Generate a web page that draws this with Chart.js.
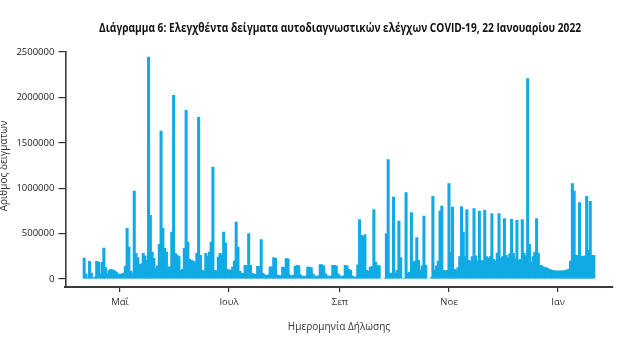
<!DOCTYPE html>
<html lang="el">
<head>
<meta charset="utf-8">
<title>Ελεγχθέντα δείγματα αυτοδιαγνωστικών ελέγχων</title>
<script src="https://cdn.jsdelivr.net/npm/chart.js@4/dist/chart.umd.min.js"></script>
<style>
  body { margin: 0; background: #fff; }
  canvas { display: block; }
</style>
</head>
<body>
<canvas id="barChart" width="623" height="349"></canvas>
<script>
// Daily self-test declarations, 11 Apr 2021 to 21 Jan 2022 (thousands of samples)
const firstDay = "2021-04-11";
const samplesK = [
  // Apr
  235, 60, 20, 198, 70, 15, 25, 198, 190, 60, 187, 345, 130, 60, 100, 110, 105, 95, 80, 60,
  // May
  55, 60, 70, 143, 562, 356, 90, 70, 973, 286, 240, 165, 170, 286, 260, 209, 2448, 705, 300, 231,
  120, 150, 385, 1633, 562, 341, 300, 136, 140, 521, 2026,
  // Jun
  286, 264, 250, 100, 110, 341, 1861, 411, 220, 209, 200, 180, 286, 1784, 264, 100, 95, 286, 253, 300,
  411, 1237, 100, 95, 246, 286, 270, 521, 400, 110,
  // Jul
  105, 100, 136, 200, 631, 356, 90, 70, 66, 154, 150, 503, 154, 66, 60, 55, 143, 140, 437, 66,
  50, 45, 50, 136, 140, 239, 230, 50, 45, 40, 136,
  // Aug
  130, 228, 225, 50, 40, 45, 143, 154, 150, 50, 35, 30, 40, 136, 136, 130, 60, 40, 30, 40,
  162, 160, 150, 60, 40, 30, 40, 154, 154, 150, 60,
  // Sep
  40, 30, 40, 154, 150, 110, 100, 40, 20, 30, 160, 657, 485, 470, 492, 100, 90, 136, 140, 768,
  191, 154, 150, 8, 5, 10, 503, 1318, 66, 70,
  // Oct
  907, 70, 100, 642, 239, 8, 10, 955, 70, 80, 735, 191, 200, 459, 209, 100, 150, 697, 154, 8,
  5, 20, 914, 100, 150, 200, 752, 807, 100, 90, 100,
  // Nov
  1054, 300, 796, 110, 100, 130, 250, 802, 521, 250, 768, 209, 200, 250, 779, 260, 200, 752, 209, 200,
  760, 250, 230, 250, 724, 220, 200, 290, 724, 230,
  // Dec
  250, 668, 264, 230, 280, 661, 286, 230, 650, 209, 220, 657, 286, 260, 2210, 385, 191, 250, 300, 668,
  286, 154, 150, 136, 130, 125, 110, 105, 100, 95, 95,
  // Jan
  90, 95, 95, 95, 100, 105, 110, 200, 1054, 973, 264, 264, 845, 253, 253, 260, 914, 319, 859, 264,
  264
];

// x axis runs a little past the data on both sides
const axisStart = "2021-04-01";
const axisEnd = "2022-01-31";
const monthTickDates = ["2021-05-01", "2021-07-01", "2021-09-01", "2021-11-01", "2022-01-01"];
const monthTickLabels = ["Μαΐ", "Ιουλ", "Σεπ", "Νοε", "Ιαν"];
const yTicks = [0, 500000, 1000000, 1500000, 2000000, 2500000];

const chartTitle = "Διάγραμμα 6: Ελεγχθέντα δείγματα αυτοδιαγνωστικών ελέγχων COVID-19, 22 Ιανουαρίου 2022";
const xTitle = "Ημερομηνία Δήλωσης";
const yTitle = "Αριθμός δειγμάτων";

const DAY = 86400000;
const toDate = (s) => Date.parse(s + "T00:00:00Z");
const isoDay = (t) => new Date(t).toISOString().slice(0, 10);

const labels = [];
for (let t = toDate(axisStart); t <= toDate(axisEnd); t += DAY) {
  labels.push(isoDay(t));
}

const offset = (toDate(firstDay) - toDate(axisStart)) / DAY;
const values = labels.map((d, i) => {
  const k = i - offset;
  return k >= 0 && k < samplesK.length ? samplesK[k] * 1000 : null;
});

const tickIndex = monthTickDates.map((d) => labels.indexOf(d));

// titles drawn by hand so they sit exactly where wanted
const titlesPlugin = {
  id: "titles",
  afterDraw(chart) {
    const { ctx, chartArea } = chart;
    const cx = (chartArea.left + chartArea.right) / 2;
    ctx.save();
    ctx.fillStyle = "#111";
    ctx.textAlign = "center";
    ctx.textBaseline = "middle";
    // condensed look: squeeze the bold title into its slot
    ctx.font = "bold 13px 'Open Sans', sans-serif";
    ctx.fillText(chartTitle, cx + 1, 28, 482);

    ctx.fillStyle = "#333";
    ctx.font = "10px 'Open Sans', sans-serif";
    ctx.fillText(xTitle, cx, 327);

    ctx.translate(7, 166);
    ctx.rotate(-Math.PI / 2);
    ctx.textBaseline = "alphabetic";
    ctx.fillText(yTitle, 0, 0);
    ctx.restore();
  },
};

const ctx = document.getElementById("barChart").getContext("2d");
const barChart = new Chart(ctx, {
  type: "bar",
  data: {
    labels: labels,
    datasets: [
      {
        data: values,
        backgroundColor: "#12aae4",
        barPercentage: 1.7,
        categoryPercentage: 1,
        borderWidth: 0,
      },
    ],
  },
  plugins: [titlesPlugin],
  options: {
    responsive: false,
    animation: false,
    devicePixelRatio: 1,
    layout: {
      padding: { top: 52, right: 10.4, left: 0, bottom: 0 },
    },
    plugins: {
      legend: { display: false },
      tooltip: { enabled: false },
    },
    scales: {
      x: {
        offset: true,
        afterFit: (scale) => {
          scale.height = 62;
        },
        afterBuildTicks: (scale) => {
          scale.ticks = tickIndex.map((i) => ({ value: i }));
        },
        grid: {
          offset: false,
          drawOnChartArea: false,
          drawTicks: true,
          tickLength: 5,
          color: "#333",
          lineWidth: 1.2,
        },
        border: { display: true, color: "#3a3a3a", width: 2 },
        ticks: {
          autoSkip: false,
          maxRotation: 0,
          padding: 5,
          color: "#333",
          font: { family: "'Open Sans', sans-serif", size: 9.5 },
          callback: (value) => monthTickLabels[tickIndex.indexOf(value)],
        },
      },
      y: {
        min: -88000,
        max: 2500000,
        afterFit: (scale) => {
          scale.width = 65.4;
        },
        afterBuildTicks: (scale) => {
          scale.ticks = yTicks.map((v) => ({ value: v }));
        },
        grid: {
          drawOnChartArea: false,
          drawTicks: true,
          tickLength: 7,
          color: "#333",
          lineWidth: 1.2,
        },
        border: { display: true, color: "#3a3a3a", width: 1.6 },
        ticks: {
          padding: 4,
          color: "#222",
          font: { family: "'Open Sans', sans-serif", size: 9.5 },
          callback: (value) => String(value),
        },
      },
    },
  },
});
</script>
</body>
</html>
